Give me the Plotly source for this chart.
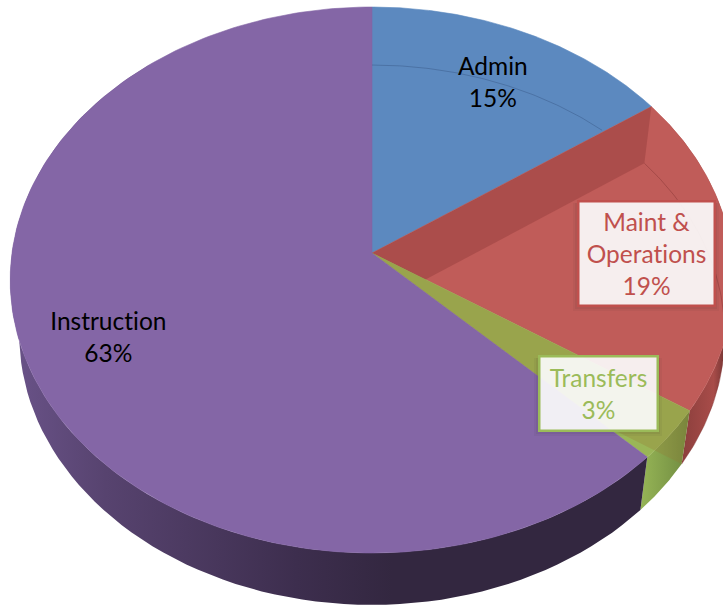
import numpy as np
import plotly.graph_objects as go

# Data
categories = ["Admin", "Maint &<br>Operations", "Transfers", "Instruction"]
shares = [15.3, 19.0, 3.1, 62.6]

# Style
face_colors = ["#5c89bf", "#c05c59", "#9ab657", "#8466a6"]
label_text_colors = ["#000000", "#c0504d", "#9bbb59", "#000000"]
FONT = "Lato"
FONT_SIZE = 24.5

# Projection of the tilted disc into the picture
APEX_X, APEX_Y = 372.0, 253.0
A, B, K = 360.0, 270.3, 0.0989


def rim(theta):
    u, v = np.sin(theta), np.cos(theta)
    w = 1 + K * v
    return APEX_X + A * u / w, APEX_Y - B * v / w


def base(theta):
    x, y = rim(theta)
    return APEX_X + 0.975 * (x - APEX_X), y + 55 + 3 * np.cos(theta)


def arc(fn, a, b, n=90):
    return fn(np.linspace(a, b, n))


def intersect(p1, p2, p3, p4):
    d1 = np.subtract(p2, p1)
    d2 = np.subtract(p4, p3)
    c = lambda m, n: m[0] * n[1] - m[1] * n[0]
    t = c(np.subtract(p3, p1), d2) / c(d1, d2)
    return tuple(np.add(p1, t * d1))


edges = 2 * np.pi * np.concatenate([[0], np.cumsum(shares)]) / sum(shares)
apex = (APEX_X, APEX_Y)
base_apex = (APEX_X, APEX_Y + 55)

fig = go.Figure()


def poly(xs, ys, **kw):
    fig.add_trace(go.Scatter(x=list(xs), y=list(ys), mode="lines", fill="toself",
                             hoverinfo="skip", showlegend=False, **kw))


def side(a, b, stops):
    rx, ry = arc(rim, a, b)
    bx, by = arc(base, a, b)
    poly(np.r_[rx, bx[::-1], rx[0]], np.r_[ry, by[::-1], ry[0]],
         line=dict(width=0),
         fillgradient=dict(type="horizontal", colorscale=stops))


# Side walls
side(np.pi / 3, edges[2], [[0, "#7a3735"], [0.72, "#a84c49"], [1, "#4e2423"]])
side(edges[2], edges[3], [[0, "#96b556"], [1, "#6f8a40"]])
side(edges[3], edges[3] + 1.02 * np.pi,
     [[0, "#6a5389"], [0.15, "#57436f"], [0.45, "#3d2e4e"], [0.6, "#332740"], [1, "#332740"]])

# Top faces
for i, color in enumerate(face_colors):
    rx, ry = arc(rim, edges[i], edges[i + 1], 200)
    poly(np.r_[APEX_X, rx, APEX_X], np.r_[APEX_Y, ry, APEX_Y],
         line=dict(width=0.6, color=color), fillcolor=color)

# Inner walls seen through the translucent slices
for i, color in [(1, "rgba(120,40,40,0.28)"), (2, "rgba(150,120,50,0.28)")]:
    rs, bs = rim(edges[i]), base(edges[i])
    cut = intersect(bs, base_apex, apex, rim(edges[i + 1]))
    poly([apex[0], rs[0], bs[0], cut[0], apex[0]],
         [apex[1], rs[1], bs[1], cut[1], apex[1]],
         line=dict(width=0), fillcolor=color)

# Faint far edge of the base showing through the Admin and Maint slices
ax, ay = arc(base, 0, edges[1])
ex, ey = rim(edges[1])
keep = (ex - APEX_X) * (ay - APEX_Y) - (ey - APEX_Y) * (ax - APEX_X) < 0
mx, my = arc(base, edges[1], edges[2])
for bx, by, color in [(ax[keep], ay[keep], "rgba(50,80,125,0.40)"),
                      (mx, my, "rgba(130,50,50,0.45)")]:
    fig.add_trace(go.Scatter(x=bx, y=by, mode="lines", hoverinfo="skip", showlegend=False,
                             line=dict(width=1, color=color)))

# Soft shadows under the two boxed labels
for x0, y0, x1, y1 in [(577, 201, 715, 306), (538, 356, 658, 431)]:
    for grow, alpha in [(5, 0.05), (3, 0.06), (1, 0.07)]:
        fig.add_shape(type="rect", x0=x0 - grow + 1, x1=x1 + grow - 1, y0=y0 + 2, y1=y1 + grow,
                      line=dict(width=0), fillcolor=f"rgba(40,30,40,{alpha})")

# Labels
texts = [f"{c}<br>{round(s)}%" for c, s in zip(categories, shares)]
fig.add_annotation(x=493, y=81, text=texts[0], showarrow=False,
                   font=dict(family=FONT, size=FONT_SIZE, color=label_text_colors[0]))
fig.add_annotation(x=646, y=253, text=texts[1], showarrow=False, width=134, height=102,
                   bgcolor="rgba(255,255,255,0.9)", bordercolor="#c0504d", borderwidth=2.5, borderpad=0,
                   font=dict(family=FONT, size=FONT_SIZE, color=label_text_colors[1]))
fig.add_annotation(x=598, y=393, text=texts[2], showarrow=False, width=116, height=72,
                   bgcolor="rgba(255,255,255,0.9)", bordercolor="#9bbb59", borderwidth=2.5, borderpad=0,
                   font=dict(family=FONT, size=FONT_SIZE, color=label_text_colors[2]))
fig.add_annotation(x=108, y=336, text=texts[3], showarrow=False,
                   font=dict(family=FONT, size=FONT_SIZE, color=label_text_colors[3]))

fig.update_layout(
    width=723, height=607, margin=dict(l=0, r=0, t=0, b=0),
    paper_bgcolor="white", plot_bgcolor="white", showlegend=False,
    xaxis=dict(range=[0, 723], visible=False, fixedrange=True),
    yaxis=dict(range=[607, 0], visible=False, fixedrange=True),
)
page_css = (
    "document.body.style.margin='0';document.body.style.overflow='hidden';"
    "var s=document.createElement('style');"
    "s.textContent='text,tspan{font-variant-ligatures:none !important;"
    "font-feature-settings:\"liga\" 0,\"clig\" 0 !important}';document.head.appendChild(s);"
)
fig.write_html("out.html", config={"displayModeBar": False}, post_script=page_css)
